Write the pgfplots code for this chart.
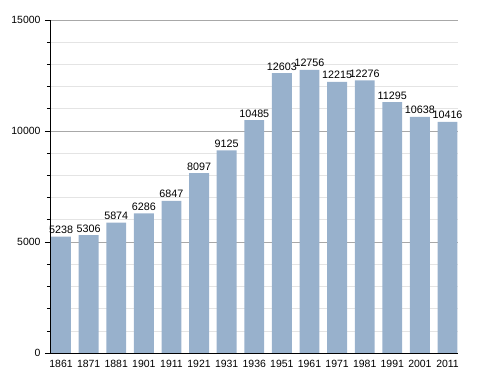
\documentclass[border=0pt]{standalone}
\usepackage{fontspec}
\setmainfont{Liberation Sans}
\usepackage{pgfplots}
\pgfplotsset{compat=1.18}
\definecolor{barc}{HTML}{98B1CC}
\definecolor{gmaj}{HTML}{A8A8A8}
\definecolor{gmin}{HTML}{E4E4E4}
\begin{document}
\begin{tikzpicture}
\begin{axis}[
  at={(0,0)}, anchor=south west,
  scale only axis, width=408bp, height=333bp,
  xmin=-0.4, xmax=14.38, ymin=0, ymax=15000,
  axis x line*=bottom, axis y line*=left,
  axis line style={black, line width=0.8pt},
  xtick={0,...,14},
  xticklabels={1861,1871,1881,1901,1911,1921,1931,1936,1951,1961,1971,1981,1991,2001,2011},
  xtick style={draw=none},
  ytick={0,5000,10000,15000},
  minor ytick={1000,2000,3000,4000,6000,7000,8000,9000,11000,12000,13000,14000},
  ymajorgrids, yminorgrids,
  major grid style={gmaj, line width=0.6pt},
  minor grid style={gmin, line width=0.6pt},
  ytick style={black, line width=0.6pt},
  major tick length=5bp, minor tick length=3bp,
  tick align=outside,
  scaled y ticks=false,
  /pgf/number format/assume math mode=true,
  yticklabel style={/pgf/number format/1000 sep={}, font=\fontsize{10.5}{12}\selectfont, xshift=-1bp},
  xticklabel style={font=\fontsize{10.5}{12}\selectfont, yshift=1bp},
  nodes near coords,
  every node near coord/.style={font=\fontsize{10.8}{12}\selectfont, black, yshift=-0.5bp},
  point meta=explicit symbolic,
]
\addplot[ybar, bar width=0.72, fill=barc, draw=none] coordinates {
(0,5238) [5238]
(1,5306) [5306]
(2,5874) [5874]
(3,6286) [6286]
(4,6847) [6847]
(5,8097) [8097]
(6,9125) [9125]
(7,10485) [10485]
(8,12603) [12603]
(9,12756) [12756]
(10,12215) [12215]
(11,12276) [12276]
(12,11295) [11295]
(13,10638) [10638]
(14,10416) [10416]
};
\end{axis}
\path[use as bounding box] (-50bp,-20bp) rectangle (438bp,353bp);
\end{tikzpicture}
\end{document}
